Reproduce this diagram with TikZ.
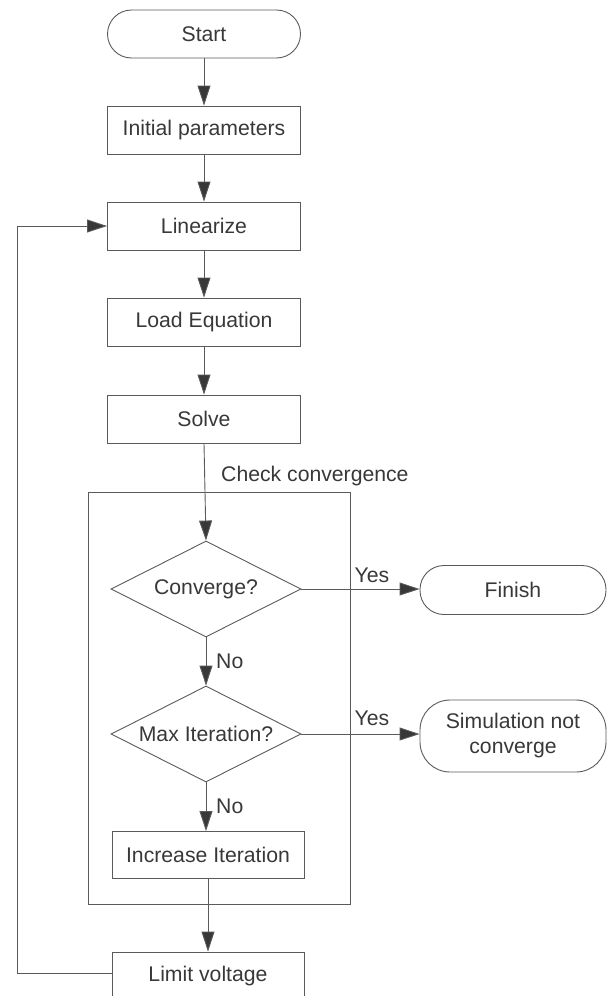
\documentclass[tikz,border=0pt]{standalone}
\usepackage{fontspec}
\setmainfont{Liberation Sans}
\usetikzlibrary{shapes.geometric,arrows.meta}
\definecolor{ink}{HTML}{383838}
\definecolor{edge}{HTML}{5A5A5A}
\begin{document}
\begin{tikzpicture}[x=1pt,y=-1pt,
  font=\fontsize{21.2}{25}\selectfont, text=ink,
  every node/.append style={inner sep=0pt},
  box/.style={draw=edge, line width=0.9pt, rectangle, minimum width=193pt, minimum height=48pt},
  term/.style={draw=edge, line width=0.9pt, rectangle, rounded corners=24pt, minimum width=193pt, minimum height=48pt, align=center},
  decision/.style={draw=edge, line width=0.9pt, diamond, aspect=1.97, minimum width=190pt, minimum height=96pt},
  lbl/.style={text=ink},
  flow/.style={draw=edge, line width=0.9pt, -{Triangle[length=20pt,width=13pt,fill=ink]}}
]
\useasboundingbox (0,0) rectangle (607,996);

% main column
\node[term] (start) at (204,34) {Start};
\node[box] (init) at (204,130) {Initial parameters};
\node[box] (lin) at (204,226) {Linearize};
\node[box] (load) at (204,322) {Load Equation};
\node[box] (solve) at (204,419) {Solve};

% convergence check group
\draw[edge, line width=0.9pt] (88,492) rectangle (350,904);
\node[lbl, anchor=west] (chk) at (221,476) {Check convergence};

\node[decision] (conv) at (206,589) {Converge?};
\node[decision] (maxit) at (206,734) {Max Iteration?};
\node[box, minimum width=192pt, minimum height=47pt] (inc) at (208,855) {Increase Iteration};
\node[box, minimum width=192pt] (limit) at (208,976) {Limit voltage};

% end states
\node[term, minimum width=186pt, minimum height=49pt] (fin) at (513,590) {Finish};
\node[term, minimum width=186pt, minimum height=72pt, rounded corners=30pt] (sim) at (513,736) {Simulation not\\converge};

% connectors
\draw[flow] (start) -- (init);
\draw[flow] (init) -- (lin);
\draw[flow] (lin) -- (load);
\draw[flow] (load) -- (solve);
\draw[flow] (solve.south) -- (conv.north);
\draw[flow] (conv.south) -- (maxit.north);
\draw[flow] (maxit.south) -- (inc.north -| maxit.south);
\draw[flow] (inc) -- (limit);
\draw[flow] (conv.east) -- (fin.west |- conv.east);
\draw[flow] (maxit.east) -- (sim.west |- maxit.east);

\coordinate (lb) at (17,973);
\coordinate (lt) at (17,226);
\draw[flow] (limit.west |- lb) -- (lb) -- (lt) -- (lin.west);

% branch labels
\node[lbl] (y1) at (372,575) {Yes};
\node[lbl] (y2) at (372,718) {Yes};
\node[lbl, anchor=west] (n1) at (216,661) {No};
\node[lbl, anchor=west] (n2) at (216,806) {No};
\end{tikzpicture}
\end{document}
